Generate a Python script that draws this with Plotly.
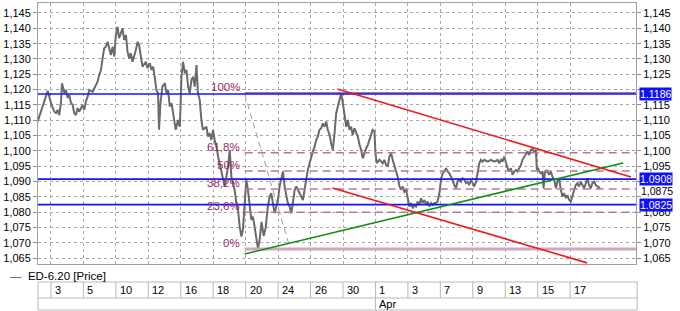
import plotly.graph_objects as go

# ---------------- data ----------------
# x = trading-day index (Mar 3 = 1, each tick cell = 2 units); price in EUR/USD
PRICE_X = [
 0.18,0.38,0.59,0.80,1.00,1.20,1.31,1.41,1.51,1.62,1.68,1.82,1.92,2.03,2.13,2.23,2.34,2.43,2.54,2.64,
 2.74,2.95,3.05,3.15,3.26,3.36,3.57,3.77,3.87,3.97,4.08,4.18,4.28,4.38,4.49,4.59,4.69,4.80,4.90,5.00,
 5.10,5.20,5.31,5.41,5.51,5.62,5.72,5.82,5.92,6.03,6.23,6.34,6.43,6.54,6.64,6.85,6.95,
 7.09,7.20,7.30,7.40,7.50,7.60,7.66,7.75,7.87,8.02,8.12,8.22,8.32,8.43,8.57,8.69,8.83,8.94,8.98,9.04,
 9.14,9.25,9.35,9.45,9.55,9.66,9.76,9.86,9.97,10.06,10.17,10.27,10.37,10.58,10.68,10.78,10.89,10.99,
 11.09,11.20,11.30,11.40,11.50,11.60,11.71,11.81,11.91,12.02,12.12,12.22,12.32,12.43,12.53,12.63,12.74,
 12.83,12.94,13.04,13.14,13.25,13.35,13.45,13.55,13.66,13.76,
 13.86,13.98,14.11,14.23,14.37,14.48,14.58,14.68,14.78,14.89,14.99,15.09,15.20,15.30,15.40,15.50,15.60,
 15.71,15.81,15.91,16.02,16.12,16.22,16.32,16.43,16.53,16.63,16.74,16.83,16.94,17.04,17.14,17.25,17.35,
 17.45,17.55,17.66,17.76,17.86,17.97,18.06,18.17,18.27,18.37,18.48,18.58,18.68,18.78,18.89,18.99,19.09,
 19.20,19.30,19.40,19.50,19.60,19.71,19.81,19.91,20.02,20.12,20.22,20.32,20.43,20.53,20.63,20.74,20.83,
 20.94,21.00,21.08,21.25,21.45,21.55,21.66,21.76,21.86,21.97,22.06,22.17,22.27,22.37,22.48,22.58,22.68,
 22.78,22.89,22.99,23.09,23.20,23.30,23.40,23.50,23.60,23.71,23.81,23.91,24.02,24.12,24.22,24.32,24.43,
 24.53,24.63,24.74,24.83,24.94,25.04,25.14,25.25,25.35,25.45,25.55,25.66,25.76,25.86,25.97,26.06,26.17,
 26.27,26.37,26.48,26.58,26.68,26.78,26.89,26.99,27.09,27.20,27.30,27.40,27.50,27.60,27.71,
 27.91,28.12,28.32,28.53,28.63,28.74,28.83,28.94,29.04,29.14,29.25,29.35,29.45,29.55,29.66,29.76,29.86,
 29.97,30.06,30.17,30.27,30.37,30.48,30.58,30.68,30.78,30.89,30.95,31.03,31.09,31.20,31.30,31.36,31.44,
 31.54,31.65,31.71,31.81,31.91,32.02,32.12,32.22,32.32,32.43,32.53,32.63,32.74,32.83,32.94,33.04,33.14,
 33.25,33.35,33.45,33.55,33.66,33.76,33.86,33.97,34.06,34.17,34.27,34.37,34.48,34.58,34.68,34.78,34.85]

PRICE_Y = [
 1.1096,1.1127,1.1161,1.1196,1.1157,1.1128,1.1124,1.1134,1.1117,1.1161,1.1221,1.1189,1.1199,1.1173,1.1183,1.1157,1.1150,1.1124,1.1117,1.1140,
 1.1128,1.1150,1.1134,1.1161,1.1177,1.1199,1.1193,1.1215,1.1226,1.1248,1.1264,1.1302,1.1335,1.1340,1.1356,1.1335,1.1313,1.1340,1.1308,1.1378,
 1.1405,1.1368,1.1384,1.1400,1.1362,1.1378,1.1324,1.1302,1.1319,1.1291,1.1329,1.1356,1.1346,1.1302,1.1275,1.1291,1.1270,
 1.1286,1.1264,1.1275,1.1242,1.1199,1.1188,1.1069,1.1156,1.1210,1.1221,1.1188,1.1199,1.1145,1.1156,1.1112,1.1069,1.1101,1.1079,1.1134,1.1242,
 1.1291,1.1253,1.1264,1.1210,1.1188,1.1232,1.1242,1.1210,1.1280,1.1188,1.1166,1.1101,1.1069,1.1079,1.1047,1.1058,1.1036,1.1069,
 1.1036,1.1014,1.0982,1.0960,1.0938,1.0916,1.0884,1.0916,1.0949,1.1003,1.0916,1.0895,1.0873,1.0830,1.0808,1.0753,1.0721,
 1.0743,1.0819,1.0906,1.0873,1.0808,1.0775,1.0786,1.0753,1.0721,1.0681,
 1.0710,1.0769,1.0723,1.0749,1.0819,1.0851,1.0862,1.0830,1.0797,1.0819,1.0840,1.0884,1.0906,1.0933,1.0884,1.0851,1.0830,
 1.0819,1.0797,1.0830,1.0873,1.0884,1.0873,1.0862,1.0851,1.0840,1.0873,1.0916,1.0938,1.0960,1.0982,1.0998,1.1014,1.1036,
 1.1047,1.1069,1.1074,1.1090,1.1079,1.1096,1.1069,1.1052,1.1025,1.1003,1.1058,1.1123,1.1145,1.1166,1.1188,1.1156,1.1112,
 1.1079,1.1101,1.1069,1.1079,1.1052,1.1074,1.1063,1.1047,1.1020,1.1003,1.0976,1.0993,1.1009,1.1020,1.1036,1.1052,1.1069,
 1.1063,1.0993,1.0960,1.0971,1.0960,1.0971,1.0954,1.0949,1.0982,1.0993,1.0971,1.0949,1.0938,1.0916,1.0884,1.0873,1.0884,
 1.0867,1.0873,1.0840,1.0819,1.0830,1.0813,1.0824,1.0819,1.0835,1.0824,1.0846,1.0830,1.0840,1.0824,1.0835,1.0819,1.0830,
 1.0824,1.0830,1.0830,1.0835,1.0862,1.0906,1.0927,1.0933,1.0944,1.0933,1.0927,1.0916,1.0900,1.0889,1.0879,1.0900,1.0906,
 1.0900,1.0911,1.0906,1.0895,1.0900,1.0889,1.0906,1.0895,1.0884,1.0900,1.0927,1.0960,1.0971,1.0965,1.0971,
 1.0965,1.0971,1.0965,1.0971,1.0960,1.0971,1.0965,1.0982,1.0960,1.0944,1.0933,1.0944,1.0922,1.0933,1.0938,1.0933,1.0944,
 1.0954,1.0971,1.0982,1.0993,1.0998,1.0987,1.1003,1.1006,1.0998,1.1003,1.0938,1.0944,1.0933,1.0927,1.0933,1.0878,1.0927,
 1.0938,1.0927,1.0922,1.0933,1.0916,1.0906,1.0878,1.0900,1.0911,1.0873,1.0851,1.0862,1.0846,1.0856,1.0840,1.0835,1.0856,
 1.0873,1.0889,1.0895,1.0884,1.0900,1.0889,1.0878,1.0895,1.0911,1.0889,1.0878,1.0895,1.0900,1.0889,1.0884,1.0882,1.0878]

X_RANGE = [0.2, 37.06]
Y_RANGE = [1.06313, 1.14826]

Y_TICKS = [1.065, 1.070, 1.075, 1.080, 1.085, 1.090, 1.095, 1.100, 1.105,
           1.110, 1.115, 1.120, 1.125, 1.130, 1.135, 1.140, 1.145]
Y_TICK_LABELS = ["1,065", "1,070", "1,075", "1,080", "1,085", "1,090", "1,095", "1,100", "1,105",
                 "1,110", "1,115", "1,120", "1,125", "1,130", "1,135", "1,140", "1,145"]
# right axis: labels hidden behind the price boxes are left blank
Y_TICK_LABELS_RIGHT = ["1,065", "1,070", "1,075", "1,080", "", "", "1,095", "1,100", "1,105",
                       "1,110", "1,115", "", "1,125", "1,130", "1,135", "1,140", "1,145"]
LAST_PRICE = 1.0875
LAST_PRICE_LABEL = "1,0875"

X_TICKS = [1, 3, 5, 7, 9, 11, 13, 15, 17, 19, 21, 23, 25, 27, 29, 31, 33]
X_TICK_LABELS = ["3", "5", "10", "12", "16", "18", "20", "24", "26", "30",
                 "1", "3", "7", "9", "13", "15", "17"]
MONTH_TICKS = [21]
MONTH_LABELS = ["Apr"]

# horizontal support / resistance levels (blue) with price boxes
BLUE_LEVELS = [1.1186, 1.0908, 1.0825]
BLUE_LABELS = ["1.1186", "1.0908", "1.0825"]

# Fibonacci retracement
FIB_START_X = 12.94
FIB_LEVELS = [1.0680, 1.0800, 1.0876, 1.0935, 1.0994, 1.1189]
FIB_LABELS = ["0%", "23,6%", "38,2%", "50%", "61,8%", "100%"]
FIB_DIAG = [(12.94, 1.1186), (15.75, 1.0680)]

# trend lines
GREEN_LINE = [(12.94, 1.0664), (36.26, 1.0961)]
RED_UPPER = [(18.66, 1.1202), (36.75, 1.0915)]
RED_LOWER = [(18.35, 1.0879), (34.05, 1.0635)]

LEGEND_TEXT = "ED-6.20 [Price]"

# ---------------- figure ----------------
FONT = "Liberation Sans"
fig = go.Figure()

fig.add_trace(go.Scatter(x=PRICE_X, y=PRICE_Y, mode="lines",
                         line=dict(color="#6a6a6a", width=2), hoverinfo="skip",
                         showlegend=False))
# invisible trace to activate right-hand axis
fig.add_trace(go.Scatter(x=PRICE_X, y=PRICE_Y, mode="lines", yaxis="y2",
                         line=dict(color="rgba(0,0,0,0)", width=0), hoverinfo="skip",
                         showlegend=False))

shapes = []
# fib lines
for lvl, lab in zip(FIB_LEVELS, FIB_LABELS):
    if lab == "0%":
        shapes.append(dict(type="line", xref="x", yref="y", x0=FIB_START_X, x1=X_RANGE[1],
                           y0=lvl, y1=lvl, line=dict(color="#cfa6bd", width=3)))
    elif lab == "100%":
        shapes.append(dict(type="line", xref="x", yref="y", x0=FIB_START_X, x1=X_RANGE[1],
                           y0=lvl, y1=lvl, line=dict(color="#a878a0", width=2)))
    else:
        shapes.append(dict(type="line", xref="x", yref="y", x0=FIB_START_X, x1=X_RANGE[1],
                           y0=lvl, y1=lvl, line=dict(color="#b8769a", width=1.5, dash="8px,5px")))
shapes.append(dict(type="line", xref="x", yref="y", x0=FIB_DIAG[0][0], y0=FIB_DIAG[0][1],
                   x1=FIB_DIAG[1][0], y1=FIB_DIAG[1][1],
                   line=dict(color="#c08aa8", width=1, dash="6px,4px")))
# blue levels
for lvl in BLUE_LEVELS:
    shapes.append(dict(type="line", xref="paper", yref="y", x0=0, x1=1, y0=lvl, y1=lvl,
                       line=dict(color="#1414ff", width=1.6)))
# trend lines
for pts, col in [(GREEN_LINE, "#109010"), (RED_UPPER, "#f01818"), (RED_LOWER, "#f01818")]:
    shapes.append(dict(type="line", xref="x", yref="y", x0=pts[0][0], y0=pts[0][1],
                       x1=pts[1][0], y1=pts[1][1], line=dict(color=col, width=1.6)))

# bottom date table
T_TOP, T_MID, T_BOT = -0.069, -0.1303, -0.1762
TCOL = "#b9b9b9"
shapes.append(dict(type="rect", xref="paper", yref="paper", x0=0, x1=1.002, y0=T_BOT, y1=T_TOP,
                   line=dict(color=TCOL, width=1), fillcolor="white", layer="below"))
shapes.append(dict(type="line", xref="paper", yref="paper", x0=0, x1=1.002, y0=T_MID, y1=T_MID,
                   line=dict(color=TCOL, width=1)))
for xt in X_TICKS:
    shapes.append(dict(type="line", xref="x", yref="paper", x0=xt, x1=xt, y0=T_MID, y1=T_TOP,
                       line=dict(color=TCOL, width=1)))
for xt in MONTH_TICKS:
    shapes.append(dict(type="line", xref="x", yref="paper", x0=xt, x1=xt, y0=T_BOT, y1=T_MID,
                       line=dict(color=TCOL, width=1)))

annotations = []
for xt, lab in zip(X_TICKS, X_TICK_LABELS):
    annotations.append(dict(x=xt, y=(T_TOP + T_MID) / 2, xref="x", yref="paper", text=lab,
                            showarrow=False, xanchor="left", yanchor="middle", xshift=2,
                            font=dict(family=FONT, size=11, color="#000")))
for xt, lab in zip(MONTH_TICKS, MONTH_LABELS):
    annotations.append(dict(x=xt, y=(T_MID + T_BOT) / 2, xref="x", yref="paper", text=lab,
                            showarrow=False, xanchor="left", yanchor="middle", xshift=2,
                            font=dict(family=FONT, size=11, color="#000")))
# fib labels
for lvl, lab in zip(FIB_LEVELS, FIB_LABELS):
    annotations.append(dict(x=FIB_START_X, y=lvl, xref="x", yref="y", text=lab,
                            showarrow=False, xanchor="right", yanchor="bottom", xshift=-3, yshift=-2,
                            font=dict(family=FONT, size=11.5, color="#a02860")))
# price boxes on right axis
for lvl, lab in zip(BLUE_LEVELS, BLUE_LABELS):
    annotations.append(dict(x=1, y=lvl, xref="paper", yref="y", text=lab, showarrow=False,
                            xanchor="left", yanchor="middle", xshift=3, bgcolor="#1010ff",
                            borderpad=0, font=dict(family=FONT, size=10.5, color="white")))
# last price on right axis
annotations.append(dict(x=1, y=LAST_PRICE, xref="paper", yref="y", text=LAST_PRICE_LABEL,
                        showarrow=False, xanchor="left", yanchor="middle", xshift=3, yshift=-2,
                        font=dict(family=FONT, size=10.5, color="#000")))
# legend
annotations.append(dict(x=-0.05, y=-0.046, xref="paper", yref="paper",
                        text="<span style='color:#555'>—</span>  " + LEGEND_TEXT,
                        showarrow=False, xanchor="left", yanchor="middle",
                        font=dict(family=FONT, size=11.5, color="#000")))

axis_common = dict(range=Y_RANGE, tickvals=Y_TICKS,
                   showgrid=True, gridcolor="#a8a8a8", griddash="dot", gridwidth=1,
                   ticks="outside", ticklen=4, tickcolor="#8c8c8c",
                   tickfont=dict(family=FONT, size=11, color="#000"),
                   showline=True, linecolor="#a0a0a0", linewidth=1, zeroline=False,
                   fixedrange=True)

fig.update_layout(
    width=680, height=311,
    margin=dict(l=38, r=44, t=3, b=47),
    paper_bgcolor="white", plot_bgcolor="white",
    showlegend=False,
    xaxis=dict(range=X_RANGE, tickvals=X_TICKS, showticklabels=False, ticks="",
               showgrid=True, gridcolor="#a8a8a8", griddash="dot", gridwidth=1,
               showline=True, linecolor="#a0a0a0", linewidth=1, mirror=True, zeroline=False),
    yaxis=dict(side="left", ticktext=Y_TICK_LABELS, **axis_common),
    yaxis2=dict(side="right", overlaying="y", ticktext=Y_TICK_LABELS_RIGHT, **axis_common),
    shapes=shapes,
    annotations=annotations,
)

fig.write_html("out.html")
